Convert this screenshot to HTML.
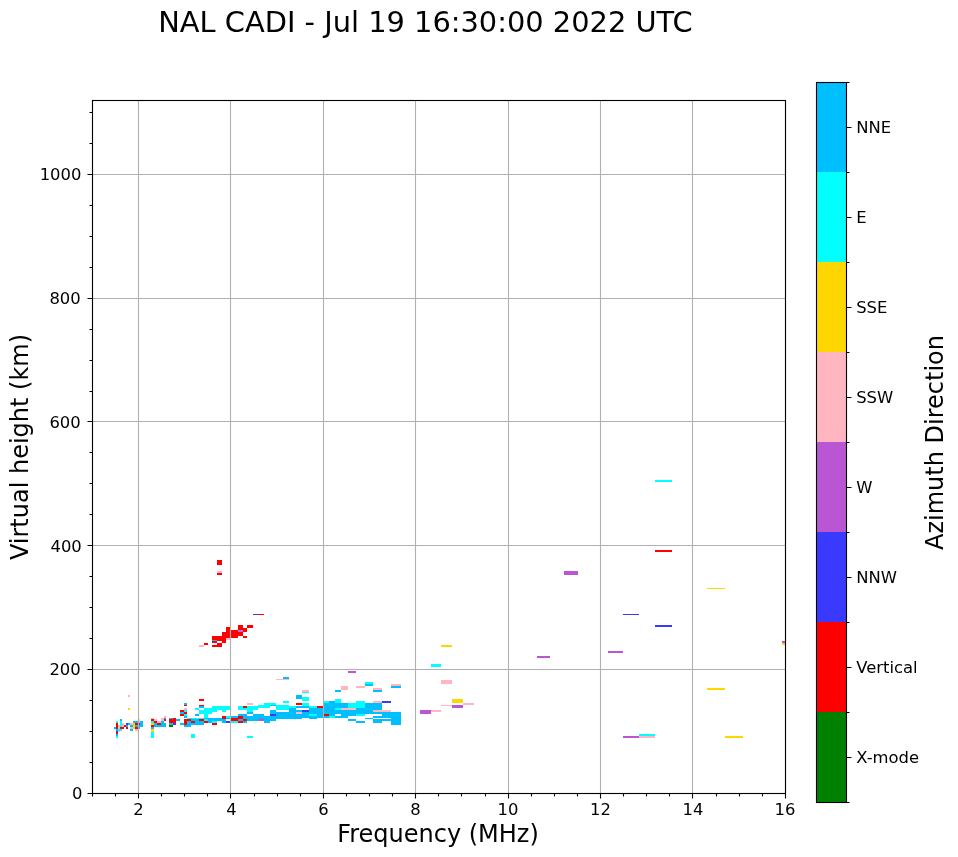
<!DOCTYPE html>
<html><head><meta charset="utf-8"><title>NAL CADI - Jul 19 16:30:00 2022 UTC</title>
<style>html,body{margin:0;padding:0;background:#fff;}body{width:958px;height:857px;overflow:hidden;}svg{display:block;will-change:transform;}</style>
</head><body>
<svg width="958" height="857" viewBox="0 0 958 857">
<rect x="0" y="0" width="958" height="857" fill="#fff"/>
<clipPath id="c"><rect x="92.5" y="100.5" width="693.0" height="693.0"/></clipPath>
<g clip-path="url(#c)" shape-rendering="crispEdges">
<rect x="655" y="480" width="17" height="2" fill="#00ffff"/>
<rect x="655" y="550" width="17" height="2" fill="#ff0000"/>
<rect x="564" y="571" width="14" height="4" fill="#ba55d3"/>
<rect x="623" y="614" width="16" height="1" fill="#3a3aff"/>
<rect x="655" y="625" width="17" height="2" fill="#3a3aff"/>
<rect x="707" y="588" width="18" height="1" fill="#ffd700"/>
<rect x="782" y="641" width="3" height="2" fill="#ba55d3"/>
<rect x="782" y="643" width="3" height="2" fill="#ffd700"/>
<rect x="537" y="656" width="13" height="2" fill="#ba55d3"/>
<rect x="608" y="651" width="15" height="2" fill="#ba55d3"/>
<rect x="707" y="688" width="18" height="2" fill="#ffd700"/>
<rect x="623" y="736" width="16" height="2" fill="#ba55d3"/>
<rect x="639" y="734" width="16" height="2" fill="#00ffff"/>
<rect x="639" y="736" width="16" height="2" fill="#ffb6c1"/>
<rect x="725" y="736" width="18" height="2" fill="#ffd700"/>
<rect x="441" y="645" width="11" height="2" fill="#ffd700"/>
<rect x="431" y="664" width="10" height="3" fill="#00ffff"/>
<rect x="441" y="680" width="11" height="4" fill="#ffb6c1"/>
<rect x="452" y="699" width="11" height="4" fill="#ffd700"/>
<rect x="452" y="705" width="11" height="3" fill="#ba55d3"/>
<rect x="441" y="705" width="11" height="1" fill="#ffb6c1"/>
<rect x="463" y="703" width="11" height="2" fill="#ffb6c1"/>
<rect x="420" y="710" width="11" height="4" fill="#ba55d3"/>
<rect x="431" y="710" width="10" height="2" fill="#ffb6c1"/>
<rect x="128" y="695" width="2" height="2" fill="#ffb6c1"/>
<rect x="128" y="708" width="2" height="2" fill="#ffd700"/>
<rect x="120" y="719" width="2" height="2" fill="#00bfff"/>
<rect x="116" y="721" width="2" height="2" fill="#00ffff"/>
<rect x="120" y="721" width="2" height="2" fill="#00ffff"/>
<rect x="133" y="721" width="5" height="2" fill="#00bfff"/>
<rect x="140" y="721" width="3" height="2" fill="#00bfff"/>
<rect x="116" y="723" width="2" height="2" fill="#ff0000"/>
<rect x="120" y="723" width="2" height="2" fill="#00ffff"/>
<rect x="122" y="723" width="2" height="2" fill="#ffb6c1"/>
<rect x="126" y="723" width="2" height="2" fill="#3a3aff"/>
<rect x="128" y="723" width="2" height="2" fill="#00bfff"/>
<rect x="130" y="723" width="3" height="2" fill="#ffb6c1"/>
<rect x="133" y="723" width="2" height="2" fill="#ffd700"/>
<rect x="135" y="723" width="5" height="2" fill="#ff0000"/>
<rect x="140" y="723" width="3" height="2" fill="#00bfff"/>
<rect x="116" y="725" width="2" height="2" fill="#ff0000"/>
<rect x="118" y="725" width="2" height="2" fill="#ffb6c1"/>
<rect x="120" y="725" width="2" height="2" fill="#00ffff"/>
<rect x="122" y="725" width="2" height="2" fill="#ffb6c1"/>
<rect x="124" y="725" width="2" height="2" fill="#ff0000"/>
<rect x="126" y="725" width="2" height="2" fill="#00bfff"/>
<rect x="130" y="725" width="3" height="2" fill="#00bfff"/>
<rect x="133" y="725" width="2" height="2" fill="#ffd700"/>
<rect x="135" y="725" width="8" height="2" fill="#00bfff"/>
<rect x="114" y="727" width="2" height="2" fill="#00bfff"/>
<rect x="116" y="727" width="2" height="2" fill="#ff0000"/>
<rect x="118" y="727" width="2" height="2" fill="#ffb6c1"/>
<rect x="120" y="727" width="4" height="2" fill="#ff0000"/>
<rect x="126" y="727" width="2" height="2" fill="#ff0000"/>
<rect x="130" y="727" width="3" height="2" fill="#ffb6c1"/>
<rect x="133" y="727" width="2" height="2" fill="#ffd700"/>
<rect x="135" y="727" width="3" height="2" fill="#ff0000"/>
<rect x="138" y="727" width="2" height="2" fill="#00bfff"/>
<rect x="116" y="729" width="2" height="2" fill="#00bfff"/>
<rect x="118" y="729" width="4" height="2" fill="#00ffff"/>
<rect x="130" y="729" width="3" height="2" fill="#00bfff"/>
<rect x="135" y="729" width="3" height="2" fill="#ffb6c1"/>
<rect x="116" y="731" width="2" height="1" fill="#3a3aff"/>
<rect x="118" y="731" width="2" height="1" fill="#ffb6c1"/>
<rect x="116" y="732" width="2" height="2" fill="#ff0000"/>
<rect x="116" y="734" width="2" height="2" fill="#00bfff"/>
<rect x="116" y="736" width="2" height="2" fill="#00ffff"/>
<rect x="139" y="719" width="1" height="4" fill="#ffb6c1"/>
<rect x="151" y="718" width="3" height="1" fill="#ffb6c1"/>
<rect x="151" y="719" width="3" height="2" fill="#ff0000"/>
<rect x="151" y="721" width="3" height="2" fill="#00ffff"/>
<rect x="151" y="723" width="3" height="2" fill="#ffd700"/>
<rect x="151" y="725" width="3" height="2" fill="#ff0000"/>
<rect x="151" y="727" width="3" height="2" fill="#00bfff"/>
<rect x="151" y="729" width="3" height="3" fill="#ffd700"/>
<rect x="151" y="732" width="3" height="6" fill="#00ffff"/>
<rect x="154" y="719" width="3" height="2" fill="#ffb6c1"/>
<rect x="154" y="721" width="3" height="2" fill="#ff0000"/>
<rect x="154" y="723" width="3" height="4" fill="#00bfff"/>
<rect x="157" y="721" width="4" height="2" fill="#ffb6c1"/>
<rect x="157" y="723" width="4" height="2" fill="#ff0000"/>
<rect x="157" y="725" width="4" height="2" fill="#00bfff"/>
<rect x="161" y="718" width="3" height="3" fill="#ffb6c1"/>
<rect x="161" y="721" width="3" height="6" fill="#00bfff"/>
<rect x="164" y="716" width="2" height="2" fill="#ffb6c1"/>
<rect x="164" y="718" width="2" height="1" fill="#00bfff"/>
<rect x="164" y="719" width="2" height="2" fill="#ff0000"/>
<rect x="164" y="723" width="2" height="4" fill="#00bfff"/>
<rect x="169" y="718" width="4" height="1" fill="#00bfff"/>
<rect x="169" y="719" width="4" height="4" fill="#ff0000"/>
<rect x="169" y="723" width="4" height="2" fill="#00bfff"/>
<rect x="169" y="725" width="4" height="2" fill="#008000"/>
<rect x="173" y="718" width="3" height="5" fill="#ff0000"/>
<rect x="173" y="723" width="3" height="2" fill="#3a3aff"/>
<rect x="176" y="719" width="4" height="2" fill="#00bfff"/>
<rect x="199" y="699" width="5" height="2" fill="#ff0000"/>
<rect x="184" y="703" width="3" height="2" fill="#00bfff"/>
<rect x="184" y="705" width="3" height="1" fill="#ff0000"/>
<rect x="199" y="705" width="5" height="1" fill="#ff0000"/>
<rect x="199" y="706" width="5" height="2" fill="#00bfff"/>
<rect x="184" y="708" width="3" height="2" fill="#ffb6c1"/>
<rect x="195" y="708" width="4" height="2" fill="#00ffff"/>
<rect x="204" y="708" width="14" height="2" fill="#00ffff"/>
<rect x="212" y="706" width="6" height="2" fill="#00ffff"/>
<rect x="180" y="710" width="4" height="2" fill="#ff0000"/>
<rect x="184" y="710" width="3" height="2" fill="#00ffff"/>
<rect x="199" y="710" width="18" height="2" fill="#00ffff"/>
<rect x="180" y="712" width="4" height="2" fill="#00bfff"/>
<rect x="184" y="712" width="3" height="2" fill="#ff0000"/>
<rect x="199" y="712" width="13" height="2" fill="#00ffff"/>
<rect x="180" y="714" width="4" height="2" fill="#ff0000"/>
<rect x="184" y="714" width="3" height="2" fill="#00ffff"/>
<rect x="195" y="714" width="4" height="2" fill="#00bfff"/>
<rect x="204" y="714" width="4" height="4" fill="#00ffff"/>
<rect x="184" y="716" width="3" height="2" fill="#00bfff"/>
<rect x="187" y="718" width="17" height="1" fill="#00ffff"/>
<rect x="204" y="718" width="14" height="3" fill="#00bfff"/>
<rect x="178" y="719" width="2" height="2" fill="#00bfff"/>
<rect x="184" y="719" width="7" height="2" fill="#ff0000"/>
<rect x="191" y="719" width="8" height="2" fill="#00bfff"/>
<rect x="199" y="719" width="5" height="2" fill="#ff0000"/>
<rect x="204" y="719" width="4" height="2" fill="#00ffff"/>
<rect x="184" y="721" width="3" height="2" fill="#ff0000"/>
<rect x="187" y="721" width="4" height="2" fill="#00bfff"/>
<rect x="191" y="721" width="4" height="2" fill="#ff0000"/>
<rect x="195" y="721" width="9" height="2" fill="#00bfff"/>
<rect x="204" y="721" width="4" height="2" fill="#ff0000"/>
<rect x="208" y="721" width="4" height="2" fill="#00bfff"/>
<rect x="212" y="721" width="5" height="2" fill="#00ffff"/>
<rect x="180" y="723" width="4" height="2" fill="#00bfff"/>
<rect x="184" y="723" width="3" height="2" fill="#ff0000"/>
<rect x="187" y="723" width="17" height="2" fill="#00bfff"/>
<rect x="212" y="723" width="5" height="2" fill="#ff0000"/>
<rect x="184" y="725" width="7" height="2" fill="#00bfff"/>
<rect x="191" y="734" width="4" height="4" fill="#00ffff"/>
<rect x="247" y="703" width="6" height="2" fill="#ffb6c1"/>
<rect x="216" y="706" width="14" height="4" fill="#00ffff"/>
<rect x="216" y="710" width="1" height="2" fill="#00ffff"/>
<rect x="222" y="710" width="4" height="2" fill="#00ffff"/>
<rect x="238" y="706" width="5" height="4" fill="#00ffff"/>
<rect x="243" y="706" width="4" height="2" fill="#ff0000"/>
<rect x="243" y="708" width="4" height="2" fill="#00ffff"/>
<rect x="247" y="706" width="9" height="4" fill="#00ffff"/>
<rect x="247" y="710" width="6" height="2" fill="#00ffff"/>
<rect x="247" y="712" width="6" height="2" fill="#00bfff"/>
<rect x="238" y="714" width="9" height="2" fill="#00bfff"/>
<rect x="253" y="714" width="3" height="2" fill="#00bfff"/>
<rect x="222" y="716" width="4" height="3" fill="#ff0000"/>
<rect x="226" y="716" width="4" height="2" fill="#00ffff"/>
<rect x="231" y="716" width="7" height="2" fill="#00bfff"/>
<rect x="238" y="716" width="5" height="3" fill="#ff0000"/>
<rect x="243" y="716" width="13" height="3" fill="#00bfff"/>
<rect x="216" y="718" width="6" height="1" fill="#00bfff"/>
<rect x="226" y="718" width="4" height="1" fill="#00bfff"/>
<rect x="231" y="718" width="7" height="3" fill="#ff0000"/>
<rect x="216" y="719" width="10" height="2" fill="#00bfff"/>
<rect x="238" y="719" width="5" height="2" fill="#00bfff"/>
<rect x="243" y="719" width="4" height="2" fill="#ff0000"/>
<rect x="247" y="719" width="9" height="2" fill="#00bfff"/>
<rect x="216" y="721" width="1" height="2" fill="#00ffff"/>
<rect x="222" y="721" width="4" height="2" fill="#00bfff"/>
<rect x="226" y="721" width="4" height="2" fill="#3a3aff"/>
<rect x="231" y="721" width="7" height="2" fill="#00ffff"/>
<rect x="238" y="721" width="5" height="2" fill="#ff0000"/>
<rect x="243" y="721" width="4" height="2" fill="#00bfff"/>
<rect x="283" y="701" width="6" height="2" fill="#00ffff"/>
<rect x="264" y="703" width="12" height="2" fill="#00ffff"/>
<rect x="270" y="705" width="6" height="1" fill="#00bfff"/>
<rect x="258" y="705" width="12" height="3" fill="#00ffff"/>
<rect x="254" y="706" width="4" height="4" fill="#00ffff"/>
<rect x="276" y="705" width="13" height="5" fill="#00ffff"/>
<rect x="289" y="706" width="5" height="2" fill="#00ffff"/>
<rect x="289" y="708" width="5" height="11" fill="#00bfff"/>
<rect x="270" y="710" width="6" height="4" fill="#00bfff"/>
<rect x="270" y="714" width="6" height="2" fill="#3a3aff"/>
<rect x="276" y="712" width="13" height="7" fill="#00bfff"/>
<rect x="254" y="714" width="10" height="5" fill="#00bfff"/>
<rect x="254" y="719" width="4" height="2" fill="#00bfff"/>
<rect x="258" y="719" width="6" height="2" fill="#ba55d3"/>
<rect x="264" y="716" width="12" height="5" fill="#00bfff"/>
<rect x="264" y="721" width="6" height="2" fill="#00bfff"/>
<rect x="302" y="690" width="7" height="2" fill="#ffb6c1"/>
<rect x="302" y="692" width="7" height="1" fill="#00ffff"/>
<rect x="296" y="695" width="6" height="4" fill="#00bfff"/>
<rect x="302" y="697" width="7" height="4" fill="#00ffff"/>
<rect x="296" y="703" width="6" height="2" fill="#ff0000"/>
<rect x="302" y="703" width="7" height="3" fill="#00ffff"/>
<rect x="292" y="706" width="4" height="2" fill="#00ffff"/>
<rect x="296" y="706" width="13" height="2" fill="#00bfff"/>
<rect x="309" y="706" width="8" height="2" fill="#00ffff"/>
<rect x="317" y="706" width="6" height="2" fill="#ff0000"/>
<rect x="292" y="708" width="4" height="11" fill="#00bfff"/>
<rect x="296" y="710" width="6" height="2" fill="#00bfff"/>
<rect x="302" y="710" width="7" height="2" fill="#3a3aff"/>
<rect x="296" y="712" width="6" height="2" fill="#ffb6c1"/>
<rect x="296" y="714" width="6" height="5" fill="#00bfff"/>
<rect x="302" y="712" width="7" height="6" fill="#00bfff"/>
<rect x="309" y="708" width="8" height="6" fill="#00bfff"/>
<rect x="309" y="714" width="8" height="2" fill="#00ffff"/>
<rect x="309" y="716" width="8" height="3" fill="#00bfff"/>
<rect x="317" y="708" width="6" height="10" fill="#00bfff"/>
<rect x="323" y="701" width="6" height="2" fill="#00ffff"/>
<rect x="329" y="701" width="3" height="15" fill="#00bfff"/>
<rect x="323" y="703" width="6" height="11" fill="#00bfff"/>
<rect x="323" y="714" width="6" height="2" fill="#ff0000"/>
<rect x="323" y="716" width="6" height="2" fill="#00bfff"/>
<rect x="329" y="716" width="3" height="2" fill="#00ffff"/>
<rect x="365" y="682" width="5" height="2" fill="#00ffff"/>
<rect x="365" y="684" width="5" height="2" fill="#00bfff"/>
<rect x="341" y="686" width="7" height="4" fill="#ffb6c1"/>
<rect x="356" y="686" width="9" height="2" fill="#ffb6c1"/>
<rect x="335" y="690" width="6" height="2" fill="#00bfff"/>
<rect x="335" y="699" width="6" height="4" fill="#00ffff"/>
<rect x="330" y="701" width="5" height="15" fill="#00bfff"/>
<rect x="330" y="716" width="5" height="2" fill="#00ffff"/>
<rect x="335" y="703" width="13" height="5" fill="#00bfff"/>
<rect x="348" y="703" width="8" height="5" fill="#00ffff"/>
<rect x="356" y="701" width="9" height="7" fill="#00ffff"/>
<rect x="365" y="703" width="5" height="11" fill="#00bfff"/>
<rect x="335" y="708" width="6" height="2" fill="#00ffff"/>
<rect x="341" y="708" width="15" height="2" fill="#ffb6c1"/>
<rect x="356" y="708" width="9" height="6" fill="#00bfff"/>
<rect x="335" y="710" width="21" height="4" fill="#00bfff"/>
<rect x="341" y="714" width="15" height="2" fill="#00bfff"/>
<rect x="356" y="714" width="9" height="2" fill="#00ffff"/>
<rect x="335" y="716" width="13" height="2" fill="#00bfff"/>
<rect x="365" y="718" width="5" height="1" fill="#00bfff"/>
<rect x="348" y="719" width="8" height="2" fill="#00bfff"/>
<rect x="356" y="721" width="9" height="2" fill="#00bfff"/>
<rect x="368" y="682" width="5" height="2" fill="#00ffff"/>
<rect x="368" y="684" width="5" height="2" fill="#00bfff"/>
<rect x="391" y="684" width="10" height="2" fill="#ffb6c1"/>
<rect x="391" y="686" width="10" height="2" fill="#00bfff"/>
<rect x="373" y="688" width="9" height="2" fill="#ffb6c1"/>
<rect x="373" y="690" width="9" height="2" fill="#00bfff"/>
<rect x="373" y="701" width="9" height="2" fill="#ffb6c1"/>
<rect x="382" y="701" width="9" height="2" fill="#3a3aff"/>
<rect x="368" y="703" width="14" height="7" fill="#00bfff"/>
<rect x="368" y="710" width="5" height="4" fill="#00bfff"/>
<rect x="373" y="710" width="18" height="2" fill="#ffb6c1"/>
<rect x="373" y="712" width="18" height="2" fill="#00bfff"/>
<rect x="391" y="712" width="10" height="13" fill="#00bfff"/>
<rect x="382" y="714" width="9" height="2" fill="#00bfff"/>
<rect x="373" y="716" width="18" height="2" fill="#00bfff"/>
<rect x="368" y="718" width="5" height="1" fill="#00bfff"/>
<rect x="373" y="719" width="18" height="2" fill="#00bfff"/>
<rect x="373" y="721" width="9" height="2" fill="#00bfff"/>
<rect x="283" y="677" width="6" height="2" fill="#00bfff"/>
<rect x="276" y="679" width="13" height="1" fill="#ffb6c1"/>
<rect x="348" y="671" width="8" height="2" fill="#ba55d3"/>
<rect x="247" y="736" width="6" height="2" fill="#00ffff"/>
<rect x="217" y="560" width="5" height="5" fill="#ff0000"/>
<rect x="217" y="571" width="5" height="2" fill="#ffb6c1"/>
<rect x="217" y="573" width="5" height="2" fill="#ff0000"/>
<rect x="226" y="627" width="4" height="11" fill="#ff0000"/>
<rect x="222" y="632" width="4" height="11" fill="#ff0000"/>
<rect x="212" y="636" width="10" height="4" fill="#ff0000"/>
<rect x="212" y="640" width="5" height="1" fill="#00bfff"/>
<rect x="217" y="640" width="5" height="1" fill="#ff0000"/>
<rect x="212" y="641" width="5" height="2" fill="#ff0000"/>
<rect x="226" y="638" width="4" height="2" fill="#ffb6c1"/>
<rect x="204" y="643" width="4" height="2" fill="#ff0000"/>
<rect x="217" y="643" width="5" height="2" fill="#ff0000"/>
<rect x="199" y="645" width="5" height="2" fill="#ffb6c1"/>
<rect x="212" y="645" width="10" height="2" fill="#ff0000"/>
<rect x="253" y="614" width="5" height="1" fill="#3a3aff"/>
<rect x="258" y="614" width="6" height="1" fill="#ff0000"/>
<rect x="238" y="625" width="5" height="5" fill="#ff0000"/>
<rect x="247" y="625" width="6" height="3" fill="#ff0000"/>
<rect x="243" y="628" width="4" height="4" fill="#ff0000"/>
<rect x="238" y="630" width="5" height="2" fill="#a970f0"/>
<rect x="231" y="630" width="7" height="8" fill="#ff0000"/>
<rect x="238" y="632" width="5" height="4" fill="#ff0000"/>
<rect x="243" y="636" width="4" height="2" fill="#ff0000"/>
</g>
<path d="M138.5 100.5V793.5M230.5 100.5V793.5M323.5 100.5V793.5M415.5 100.5V793.5M508.5 100.5V793.5M600.5 100.5V793.5M692.5 100.5V793.5M785.5 100.5V793.5M92.5 793.5H785.5M92.5 669.5H785.5M92.5 545.5H785.5M92.5 421.5H785.5M92.5 298.5H785.5M92.5 174.5H785.5" stroke="#b0b0b0" stroke-width="1.11" fill="none"/>
<path d="M138.5 793.5v5M230.5 793.5v5M323.5 793.5v5M415.5 793.5v5M508.5 793.5v5M600.5 793.5v5M692.5 793.5v5M785.5 793.5v5M92.5 793.5v3M115.5 793.5v3M161.5 793.5v3M184.5 793.5v3M207.5 793.5v3M254.5 793.5v3M277.5 793.5v3M300.5 793.5v3M346.5 793.5v3M369.5 793.5v3M392.5 793.5v3M438.5 793.5v3M461.5 793.5v3M485.5 793.5v3M531.5 793.5v3M554.5 793.5v3M577.5 793.5v3M623.5 793.5v3M646.5 793.5v3M669.5 793.5v3M716.5 793.5v3M739.5 793.5v3M762.5 793.5v3M92.5 793.5h-5M92.5 669.5h-5M92.5 545.5h-5M92.5 421.5h-5M92.5 298.5h-5M92.5 174.5h-5M92.5 762.5h-3M92.5 731.5h-3M92.5 700.5h-3M92.5 638.5h-3M92.5 607.5h-3M92.5 576.5h-3M92.5 514.5h-3M92.5 483.5h-3M92.5 452.5h-3M92.5 391.5h-3M92.5 360.5h-3M92.5 329.5h-3M92.5 267.5h-3M92.5 236.5h-3M92.5 205.5h-3M92.5 143.5h-3M92.5 112.5h-3" stroke="#000" stroke-width="1.11" fill="none"/>
<rect x="92.5" y="100.5" width="693.0" height="693.0" stroke="#000" stroke-width="1.11" fill="none" stroke-linejoin="miter"/>
<g style="font-family:'DejaVu Sans','Liberation Sans',sans-serif;font-size:16.4px" fill="#000">
<text x="138.50" y="814.89" text-anchor="middle">2</text>
<text x="231.40" y="814.89" text-anchor="middle">4</text>
<text x="323.50" y="814.89" text-anchor="middle">6</text>
<text x="415.50" y="814.89" text-anchor="middle">8</text>
<text x="507.90" y="814.89" text-anchor="middle">10</text>
<text x="600.50" y="814.89" text-anchor="middle">12</text>
<text x="693.00" y="814.89" text-anchor="middle">14</text>
<text x="784.90" y="814.89" text-anchor="middle">16</text>
<text x="82.38" y="799.00" text-anchor="end">0</text>
<text x="80.68" y="675.00" text-anchor="end">200</text>
<text x="81.78" y="552.00" text-anchor="end">400</text>
<text x="80.68" y="428.00" text-anchor="end">600</text>
<text x="80.68" y="304.00" text-anchor="end">800</text>
<text x="81.35" y="180.00" text-anchor="end">1000</text>
</g>
<text x="438" y="842.14" text-anchor="middle" style="font-family:'DejaVu Sans','Liberation Sans',sans-serif;font-size:24px">Frequency (MHz)</text>
<text x="27.8" y="447.00" text-anchor="middle" transform="rotate(-90 27.8 447.00)" style="font-family:'DejaVu Sans','Liberation Sans',sans-serif;font-size:24px">Virtual height (km)</text>
<rect x="816.5" y="712" width="30.0" height="90.5" fill="#008000" shape-rendering="crispEdges"/>
<rect x="816.5" y="622" width="30.0" height="90" fill="#ff0000" shape-rendering="crispEdges"/>
<rect x="816.5" y="532" width="30.0" height="90" fill="#3a3aff" shape-rendering="crispEdges"/>
<rect x="816.5" y="442" width="30.0" height="90" fill="#ba55d3" shape-rendering="crispEdges"/>
<rect x="816.5" y="352" width="30.0" height="90" fill="#ffb6c1" shape-rendering="crispEdges"/>
<rect x="816.5" y="262" width="30.0" height="90" fill="#ffd700" shape-rendering="crispEdges"/>
<rect x="816.5" y="172" width="30.0" height="90" fill="#00ffff" shape-rendering="crispEdges"/>
<rect x="816.5" y="82.5" width="30.0" height="89.5" fill="#00bfff" shape-rendering="crispEdges"/>
<path d="M846.5 82.5h3M846.5 172.5h3M846.5 262.5h3M846.5 352.5h3M846.5 442.5h3M846.5 532.5h3M846.5 622.5h3M846.5 712.5h3M846.5 802.5h3M846.5 127.5h5M846.5 217.5h5M846.5 307.5h5M846.5 397.5h5M846.5 487.5h5M846.5 577.5h5M846.5 667.5h5M846.5 757.5h5" stroke="#000" stroke-width="1.11" fill="none"/>
<rect x="816.5" y="82.5" width="30.0" height="720.0" stroke="#000" stroke-width="1.11" fill="none" stroke-linejoin="miter"/>
<g style="font-family:'DejaVu Sans','Liberation Sans',sans-serif;font-size:16.4px" fill="#000">
<text x="856.22" y="763.00">X-mode</text>
<text x="856.22" y="673.00">Vertical</text>
<text x="856.22" y="583.00">NNW</text>
<text x="856.22" y="493.00">W</text>
<text x="856.22" y="403.00">SSW</text>
<text x="856.22" y="313.00">SSE</text>
<text x="856.22" y="223.00">E</text>
<text x="856.22" y="133.00">NNE</text>
</g>
<text x="942.8" y="442.50" text-anchor="middle" transform="rotate(-90 942.8 442.50)" style="font-family:'DejaVu Sans','Liberation Sans',sans-serif;font-size:24px">Azimuth Direction</text>
<text x="425.45" y="32.0" text-anchor="middle" style="font-family:'DejaVu Sans','Liberation Sans',sans-serif;font-size:28.87px">NAL CADI - Jul 19 16:30:00 2022 UTC</text>
</svg>
</body></html>
